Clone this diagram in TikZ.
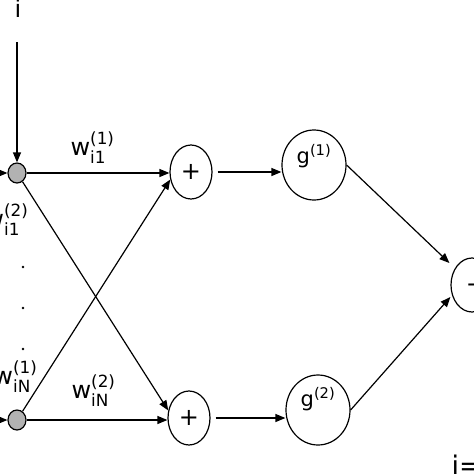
\documentclass[tikz,border=0pt]{standalone}
\usepackage{amsmath}
\usepackage{fontspec}
\setmainfont{DejaVu Sans}
\usetikzlibrary{arrows.meta,shapes.geometric}
\begin{document}
\begin{tikzpicture}[x=1pt,y=-1pt,
  line width=1.2pt,
  arr/.style={-{Triangle[length=10pt,width=8pt]}},
  inp/.style={ellipse,draw,fill=gray!60,minimum width=18pt,minimum height=20pt,inner sep=0pt},
  sumn/.style={ellipse,draw,minimum width=42pt,minimum height=54pt,inner sep=0pt,font=\fontsize{24}{28}\selectfont},
  gn/.style={ellipse,draw,minimum width=64pt,minimum height=70pt,inner sep=0pt,font=\fontsize{21}{25}\selectfont},
  lbl/.style={font=\fontsize{24}{28}\selectfont,inner sep=0pt}]
\useasboundingbox (0,0) rectangle (474,474);
\clip (0,0) rectangle (474,474);
% nodes
\node[lbl,anchor=base] (itop) at (18,17) {i};
\coordinate (itopend) at (17,42);
\node[inp] (n1) at (17,173) {};
\node[inp] (nN) at (17,420) {};
\coordinate (in1) at (-12,173);
\coordinate (inN) at (-12,420);
\node[sumn] (p1) at (191,172) {+};
\node[sumn] (p2) at (189,418) {+};
\node[gn] (g1) at (314,165) {\raisebox{2pt}[0pt][0pt]{g$^{\text{(1)}}$}};
\node[gn] (g2) at (318,410) {\raisebox{4pt}[0pt][0pt]{g$^{\text{(2)}}$}};
\node[sumn] (o) at (472,285) {\hspace*{8pt}+};
% dots
\fill (23,267) circle (1.3pt);
\fill (23,308) circle (1.3pt);
\fill (23,349) circle (1.3pt);
% labels
\node[lbl,anchor=base west] (l11) at (70,155) {w$_{\text{i1}}^{\text{(1)}}$};
\node[lbl,anchor=base east] (l12) at (29,227) {w$_{\text{i1}}^{\text{(2)}}$};
\node[lbl,anchor=base east] (lN1) at (38,384) {w$_{\text{iN}}^{\text{(1)}}$};
\node[lbl,anchor=base west] (lN2) at (71,398) {w$_{\text{iN}}^{\text{(2)}}$};
\node[font=\fontsize{27}{31}\selectfont,inner sep=0pt,anchor=base west] (ieq) at (451,475) {i=};
% connectors
\draw[arr] (itopend) -- (n1);
\draw[arr] (in1) -- (n1);
\draw[arr] (inN) -- (nN);
\draw[arr] (n1.east) -- (n1.east -| p1.west);
\draw[arr] (nN.east) -- (nN.east -| p2.west);
\draw[arr] (n1) -- (p2.160);
\draw[arr] (nN) -- (p1.200);
\draw[arr] ([xshift=5pt]p1.east) -- (p1.east -| g1.west);
\draw[arr] ([xshift=5pt]p2.east) -- (p2.east -| g2.west);
\draw[arr] (g1.east) -- ([xshift=-1pt,yshift=22pt]o.west);
\draw[arr] (g2.east) -- ([xshift=0pt,yshift=-12pt]o.west);
\end{tikzpicture}
\end{document}
